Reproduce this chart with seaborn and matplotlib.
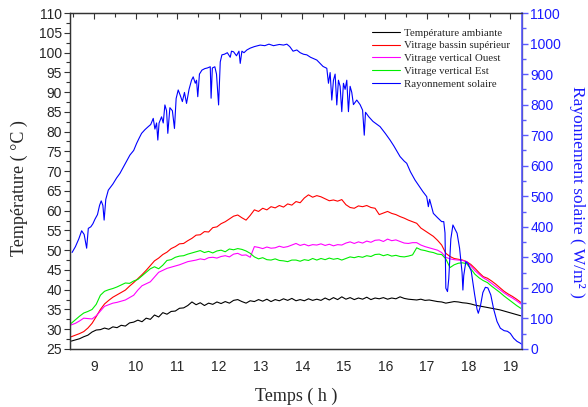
import numpy as np
import pandas as pd
import matplotlib
matplotlib.use("Agg")
import matplotlib.pyplot as plt
import seaborn as sns
from matplotlib.ticker import MultipleLocator

# ---------------- data ----------------
time_h = [
    8.45, 8.55, 8.65, 8.75, 8.85, 8.95, 9.05, 9.15, 9.25, 9.35,
    9.45, 9.55, 9.65, 9.75, 9.85, 9.95, 10.05, 10.15, 10.25, 10.35,
    10.45, 10.55, 10.65, 10.75, 10.85, 10.95, 11.05, 11.15, 11.25, 11.35,
    11.45, 11.55, 11.65, 11.75, 11.85, 11.95, 12.05, 12.15, 12.25, 12.35,
    12.45, 12.55, 12.65, 12.75, 12.85, 12.95, 13.05, 13.15, 13.25, 13.35,
    13.45, 13.55, 13.65, 13.75, 13.85, 13.95, 14.05, 14.15, 14.25, 14.35,
    14.45, 14.55, 14.65, 14.75, 14.85, 14.95, 15.05, 15.15, 15.25, 15.35,
    15.45, 15.55, 15.65, 15.75, 15.85, 15.95, 16.05, 16.15, 16.25, 16.35,
    16.45, 16.55, 16.65, 16.75, 16.85, 16.95, 17.05, 17.15, 17.25, 17.35,
    17.45, 17.55, 17.65, 17.75, 17.85, 17.95, 18.05, 18.15, 18.25, 18.35,
    18.45, 18.55, 18.65, 18.75, 18.85, 18.95, 19.05, 19.15, 19.25,
]

t_ambiante = [
    27.0, 27.3, 27.6, 28.1, 28.5, 29.3, 29.8, 29.9, 30.3, 30.0,
    30.6, 30.4, 31.0, 30.8, 31.6, 31.8, 32.3, 31.9, 32.8, 32.5,
    33.6, 33.1, 34.2, 33.8, 34.5, 34.6, 35.3, 35.4, 36.0, 36.9,
    36.2, 36.7, 36.0, 36.6, 36.3, 36.9, 36.5, 37.0, 36.6, 37.3,
    37.5, 37.0, 36.6, 37.2, 37.0, 37.5, 37.1, 37.6, 37.0, 37.5,
    37.2, 37.7, 37.3, 37.8, 37.2, 37.5, 37.2, 37.7, 37.3, 37.6,
    37.3, 37.9, 37.4, 38.0, 37.5, 38.2, 37.6, 38.0, 37.5, 37.9,
    37.6, 38.1, 37.5, 37.9, 37.7, 38.0, 37.6, 37.9, 37.7, 38.2,
    37.8, 37.6, 37.5, 37.4, 37.6, 37.3, 37.4, 37.2, 37.0, 36.9,
    36.6, 36.8, 37.0, 36.9, 36.7, 36.6, 36.4, 36.1, 35.9, 35.7,
    35.5, 35.3, 35.1, 34.9, 34.6, 34.3, 34.0, 33.7, 33.4,
]

t_bassin = [
    28.1, 28.5, 28.9, 29.4, 30.3, 31.5, 33.2, 35.0, 36.4, 37.3,
    38.1, 38.7, 39.3, 39.9, 40.9, 41.8, 42.8, 43.8, 44.9, 46.1,
    47.3, 48.0, 48.9, 49.5, 50.4, 50.9, 51.6, 51.7, 52.4, 53.0,
    53.8, 53.9, 54.7, 54.6, 55.7, 55.9, 56.7, 57.2, 57.9, 58.6,
    58.9, 58.2, 57.6, 58.8, 60.2, 59.8, 60.6, 60.2, 61.0, 60.7,
    61.3, 60.9, 61.7, 61.4, 62.3, 62.0, 63.2, 64.0, 63.4, 63.8,
    63.5, 63.0, 62.5, 62.7, 62.4, 62.8, 61.5, 60.8, 60.6, 61.2,
    61.0, 61.3, 60.8, 60.6, 59.0, 59.4, 59.8, 59.3, 59.0, 58.5,
    58.1, 57.6, 57.2, 56.8, 55.6, 54.9, 54.2, 53.5, 52.5, 51.3,
    49.2, 48.4, 47.9, 47.7, 47.5, 47.1, 46.4, 45.4, 44.3, 43.3,
    42.9, 42.2, 41.4, 40.5, 39.6, 38.9, 38.3, 37.6, 36.8,
]

t_ouest = [
    31.1, 31.5, 32.1, 32.8, 32.7, 32.6, 33.4, 34.6, 35.8, 36.2,
    36.6, 36.8, 37.1, 37.4, 38.0, 38.6, 39.9, 41.0, 41.5, 42.0,
    43.2, 44.4, 44.9, 45.4, 45.7, 46.0, 46.3, 46.7, 47.1, 47.3,
    47.5, 47.8, 47.6, 48.1, 48.2, 48.0, 48.4, 48.6, 48.3, 49.0,
    49.2, 48.7, 48.8, 48.2, 50.9, 50.7, 50.4, 50.8, 50.5, 50.6,
    51.0, 50.7, 50.9, 51.3, 51.7, 51.2, 51.5, 51.1, 51.4, 51.3,
    51.6, 51.2, 51.5, 51.1, 51.4, 51.3, 51.8, 52.1, 51.7, 52.1,
    51.8, 52.3, 52.0, 52.5, 52.6, 52.2, 52.8, 52.4, 52.6, 52.2,
    51.8, 51.7, 51.9, 51.9, 51.3, 50.9, 50.6, 50.3, 50.0, 49.4,
    48.2, 47.8, 47.6, 47.5, 47.4, 47.1, 46.0, 44.8, 43.9, 43.0,
    42.4, 41.6, 40.8, 40.0, 39.2, 38.5, 37.9, 37.2, 36.4,
]

t_est = [
    31.5, 32.4, 33.3, 34.1, 34.5, 35.0, 36.3, 38.6, 39.6, 40.0,
    40.3, 40.7, 41.2, 41.7, 41.6, 42.2, 42.6, 43.5, 44.4, 45.3,
    45.8, 45.3, 46.2, 47.4, 47.6, 48.2, 48.5, 48.6, 49.0, 49.3,
    49.6, 49.9, 49.4, 49.7, 49.3, 49.8, 50.0, 49.6, 50.3, 50.1,
    50.4, 50.2, 49.8, 49.2, 48.3, 47.8, 48.1, 47.6, 47.5, 47.8,
    47.4, 47.3, 47.1, 47.5, 47.5, 47.2, 47.6, 47.4, 47.9, 47.5,
    47.9, 47.6, 48.0, 47.7, 47.9, 47.5, 47.9, 48.3, 48.1, 48.4,
    48.2, 48.6, 48.4, 48.9, 49.0, 48.6, 48.9, 48.5, 48.7, 48.4,
    48.3, 48.5, 48.8, 50.6, 50.1, 49.9, 49.6, 49.4, 49.0, 48.9,
    47.8, 45.6, 46.3, 46.7, 46.8, 46.6, 45.3, 43.9, 43.0, 42.3,
    41.8, 40.9, 40.1, 39.3, 38.4, 37.6, 36.8, 36.0, 35.3,
]

rad_time = [
    8.47, 8.55, 8.63, 8.70, 8.76, 8.82, 8.86, 8.92, 8.97, 9.02,
    9.08, 9.13, 9.17, 9.21, 9.24, 9.28, 9.34, 9.45, 9.54, 9.62,
    9.72, 9.80, 9.86, 9.95, 10.02, 10.08, 10.14, 10.22, 10.30, 10.36,
    10.42, 10.46, 10.50, 10.53, 10.56, 10.62, 10.66, 10.70, 10.74, 10.77,
    10.82, 10.88, 10.93, 10.97, 11.02, 11.07, 11.12, 11.17, 11.22, 11.28,
    11.34, 11.38, 11.43, 11.46, 11.49, 11.53, 11.59, 11.66, 11.72, 11.79,
    11.81, 11.84, 11.90, 11.94, 11.99, 12.03, 12.07, 12.13, 12.20, 12.27,
    12.30, 12.35, 12.42, 12.48, 12.51, 12.55, 12.60, 12.67, 12.75, 12.85,
    12.99, 13.10, 13.20, 13.31, 13.45, 13.55, 13.63, 13.70, 13.78, 13.87,
    13.95, 14.03, 14.11, 14.20, 14.28, 14.35, 14.43, 14.50, 14.59, 14.63,
    14.67, 14.71, 14.75, 14.79, 14.83, 14.87, 14.91, 14.95, 14.99, 15.03,
    15.07, 15.11, 15.15, 15.19, 15.23, 15.31, 15.39, 15.45, 15.49, 15.52,
    15.60, 15.70, 15.80, 15.87, 16.00, 16.11, 16.20, 16.35, 16.45, 16.51,
    16.60, 16.71, 16.80, 16.90, 16.99, 17.03, 17.06, 17.15, 17.25, 17.35,
    17.40, 17.43, 17.45, 17.49, 17.52, 17.57, 17.62, 17.66, 17.72, 17.78,
    17.84, 17.86, 17.88, 17.93, 17.98, 18.06, 18.14, 18.20, 18.23, 18.28,
    18.34, 18.40, 18.46, 18.53, 18.60, 18.68, 18.76, 18.85, 18.93, 19.00,
    19.08, 19.16, 19.24, 19.28,
]

rad_values = [
    316, 335, 360, 387, 375, 330, 395, 400, 410, 425,
    440, 470, 485, 470, 422, 490, 520, 540, 560, 575,
    600, 620, 635, 650, 673, 690, 706, 718, 728, 735,
    755, 720, 740, 684, 740, 760, 740, 799, 780, 706,
    790, 780, 722, 820, 848, 830, 810, 840, 804, 850,
    880, 891, 870, 880, 826, 900, 913, 918, 920, 924,
    821, 920, 924, 900, 799, 940, 963, 965, 970, 955,
    975, 973, 960, 975, 935, 975, 970, 979, 985, 990,
    995, 993, 998, 993, 997, 995, 998, 990, 975, 979,
    970, 965, 963, 955, 950, 946, 935, 925, 919, 870,
    905, 815, 880, 900, 799, 880, 860, 777, 870, 850,
    880, 777, 860, 840, 800, 815, 800, 782, 700, 775,
    760, 745, 735, 728, 705, 684, 665, 630, 615, 608,
    580, 553, 535, 515, 499, 466, 490, 444, 430, 417,
    417, 380, 199, 188, 230, 360, 406, 395, 379, 330,
    250, 193, 240, 286, 280, 255, 180, 130, 117, 140,
    185, 202, 200, 177, 130, 90, 68, 60, 58, 51,
    35, 25, 19, 15,
]

labels = ["Température ambiante", "Vitrage bassin supérieur",
          "Vitrage vertical Ouest", "Vitrage vertical Est",
          "Rayonnement solaire"]
colors = ["#000000", "#ff0000", "#ff00ff", "#00ee00", "#0000ff"]

# ---------------- figure ----------------
sns.set_style("white")
plt.rcParams["font.family"] = ["Liberation Sans", "DejaVu Sans"]

fig = plt.figure(figsize=(5.88, 4.07), dpi=100)
W, H = 588, 407
L, R, T, B = 70, 522, 13, 349
ax = fig.add_axes([L / W, 1 - B / H, (R - L) / W, (B - T) / H])
ax2 = ax.twinx()

temp_series = [t_ambiante, t_bassin, t_ouest, t_est]
for vals, lab, col in zip(temp_series, labels[:4], colors[:4]):
    sns.lineplot(x=time_h, y=vals, ax=ax, color=col, lw=0.8, label=lab, legend=False)

sns.lineplot(x=rad_time, y=rad_values, ax=ax2, color=colors[4], lw=0.8,
             label=labels[4], legend=False)

ax.set_xlim(8.42, 19.28)
ax.set_ylim(25, 110)
ax2.set_ylim(0, 1100)

ax.xaxis.set_major_locator(MultipleLocator(1))
ax.xaxis.set_minor_locator(MultipleLocator(0.5))
ax.yaxis.set_major_locator(MultipleLocator(5))
ax.yaxis.set_minor_locator(MultipleLocator(2.5))
ax2.yaxis.set_major_locator(MultipleLocator(100))
ax2.yaxis.set_minor_locator(MultipleLocator(50))

for a in (ax, ax2):
    for s in a.spines.values():
        s.set_linewidth(0.9)
        s.set_color("#333333")

blue_spine = "#5a5aff"
ax2.spines["right"].set_color(blue_spine)
ax2.spines["right"].set_linewidth(1.2)

ax.tick_params(axis="x", which="major", direction="out", length=4, width=0.8,
               labelsize=10, pad=4, top=True, color="#333333")
ax.tick_params(axis="x", which="minor", direction="out", length=3, width=0.8,
               top=True, color="#333333")
ax.tick_params(axis="y", which="major", direction="out", length=4, width=0.8,
               labelsize=10, pad=2, color="#333333")
ax.tick_params(axis="y", which="minor", direction="out", length=3, width=0.8,
               color="#333333")
ax2.tick_params(axis="y", which="major", direction="out", length=4, width=1.0,
                labelsize=10, pad=2, colors="#1a1aff")
ax2.tick_params(axis="y", which="minor", direction="out", length=3, width=1.0,
                color=blue_spine)
ax2.tick_params(axis="y", which="both", color=blue_spine)

# top ticks point inward
for tk in ax.xaxis.get_major_ticks() + ax.xaxis.get_minor_ticks():
    tk.tick2line.set_marker(matplotlib.lines.TICKDOWN)

serif = ["Liberation Serif", "DejaVu Serif"]
fig.text(296 / W, 1 - 396 / H, "Temps ( h )", family=serif, fontsize=13,
         ha="center", va="center")
fig.text(19 / W, 1 - 188 / H, "Température ( °C )", family=serif, fontsize=13,
         ha="center", va="center", rotation=90)
fig.text(577 / W, 1 - 192 / H, "Rayonnement solaire ( W/m² )", family=serif,
         fontsize=12.5, ha="center", va="center", rotation=270, color="#1a1aff")

h1, l1 = ax.get_legend_handles_labels()
h2, l2 = ax2.get_legend_handles_labels()
leg = ax2.legend(h1 + h2, l1 + l2, loc="upper left",
                 bbox_to_anchor=(372 / W, 1 - 28 / H), bbox_transform=fig.transFigure,
                 frameon=False, prop={"family": "Liberation Serif", "size": 7.8},
                 handlelength=2.6, handletextpad=0.35, labelspacing=0.3,
                 borderaxespad=0, borderpad=0)

fig.savefig("out.png", dpi=100)
